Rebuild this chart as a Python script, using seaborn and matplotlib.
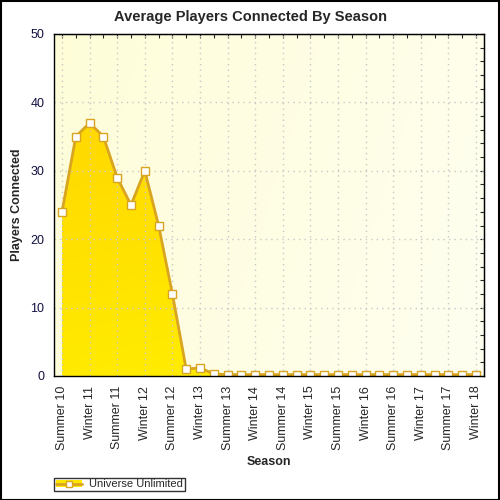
import numpy as np
import pandas as pd
import matplotlib
matplotlib.use("Agg")
import matplotlib.pyplot as plt
import seaborn as sns
from matplotlib.colors import LinearSegmentedColormap
from matplotlib.patches import Patch, Rectangle
from matplotlib.lines import Line2D

sns.set_style("white")
plt.rcParams['font.family'] = ['Liberation Sans', 'DejaVu Sans']

# one entry per season, every second one is labelled on the axis
seasons = []
for yr in range(10, 18):
    seasons += ["Summer %d" % yr, "Fall %d" % yr, "Winter %d" % (yr + 1), "Spring %d" % (yr + 1)]
seasons = seasons[:31]
players = [24, 35, 37, 35, 29, 25, 30, 22, 12, 1.0, 1.2, 0.3,
           0.2, 0.2, 0.2, 0.2, 0.2, 0.2, 0.2, 0.2, 0.2, 0.2,
           0.2, 0.2, 0.2, 0.2, 0.2, 0.2, 0.2, 0.2, 0.2]
series_name = "Universe Unlimited"

df = pd.DataFrame({"Season": seasons, "Players": players})
df["pos"] = np.arange(len(df))

line_col = "#d9a520"
fig = plt.figure(figsize=(5, 5), dpi=100)
ax = fig.add_axes([0.108, 0.248, 0.86, 0.684])

# background gradient
bg = LinearSegmentedColormap.from_list("bg", ["#fefdd8", "#fffff0"])
gx, gy = np.meshgrid(np.linspace(0, 1, 200), np.linspace(0, 1, 200))
ax.imshow(gx * 0.8 + (1 - gy) * 0.2, cmap=bg, extent=[0, 1, 0, 1], transform=ax.transAxes,
          aspect='auto', zorder=0, origin='lower')

# gradient area fill
poly = ax.fill_between(df["pos"], df["Players"], 0, color='none', lw=0)
fill_cm = LinearSegmentedColormap.from_list("fill", ["#ffd200", "#fff000"])
fx, fy = np.meshgrid(np.linspace(0, 1, 200), np.linspace(0, 1, 200))
im = ax.imshow(fy * 0.8 + fx * 0.2, cmap=fill_cm, extent=[0, len(df) - 1, 0, 50],
               aspect='auto', zorder=2, origin='upper')
im.set_clip_path(poly.get_paths()[0], transform=ax.transData)

sns.lineplot(data=df, x="pos", y="Players", ax=ax, color=line_col, lw=2,
             marker='s', markersize=6, markerfacecolor='white', markeredgecolor=line_col,
             markeredgewidth=1, zorder=3)

ax.set_xlim(-0.58, len(df) - 1 + 0.58)
ax.set_ylim(0, 50)

ax.set_xticks(df["pos"][::2])
ax.set_xticklabels(df["Season"][::2], rotation=90, fontsize=9)
ax.set_xticks(df["pos"][1::2], minor=True)
ax.set_yticks(range(0, 51, 10))
ax.set_yticks(range(0, 51, 2), minor=True)
ax.tick_params(axis='y', labelsize=9, labelcolor='#101040')
ax.tick_params(which='major', length=4, width=1, color='black', direction='out', pad=3)
ax.tick_params(which='minor', length=2, width=1, color='black', direction='out')

ax.grid(True, which='major', color='#c8c8c8', linestyle=(0, (1, 3)), lw=1)
ax.set_axisbelow(False)
for g in ax.get_xgridlines() + ax.get_ygridlines():
    g.set_zorder(1)

for s in ax.spines.values():
    s.set_color('black')
    s.set_linewidth(1)
    s.set_zorder(5)

top = ax.secondary_xaxis('top')
top.set_xticks(df["pos"])
top.tick_params(direction='in', length=3, labeltop=False)
right = ax.secondary_yaxis('right')
right.set_yticks(range(0, 51, 2))
right.tick_params(direction='in', length=3, labelright=False)

ax.set_xlabel("Season", fontsize=9, fontweight='bold', labelpad=4)
ax.set_ylabel("Players Connected", fontsize=9, fontweight='bold', labelpad=5)
fig.text(0.5, 1 - 17 / 500, "Average Players Connected By Season", ha='center', va='center',
         fontsize=10.5, fontweight='bold')

handle = (Patch(facecolor='#ffe800', edgecolor='none'),
          Line2D([], [], color=line_col, lw=2, marker='s', markersize=5,
                 markerfacecolor='white', markeredgecolor=line_col))
leg = fig.legend([handle], [series_name], loc='lower left', bbox_to_anchor=(54 / 500, 1 - 491 / 500),
                 fontsize=8, frameon=True, fancybox=False, borderpad=0.15, handlelength=2.4,
                 handleheight=0.6, handletextpad=0.6, borderaxespad=0)
leg.get_frame().set_edgecolor('black')
leg.get_frame().set_linewidth(1)

fig.patches.append(Rectangle((0.001, 0.001), 0.997, 0.997, transform=fig.transFigure,
                             fill=False, edgecolor='black', lw=1.5))

fig.savefig("out.png", dpi=100)
